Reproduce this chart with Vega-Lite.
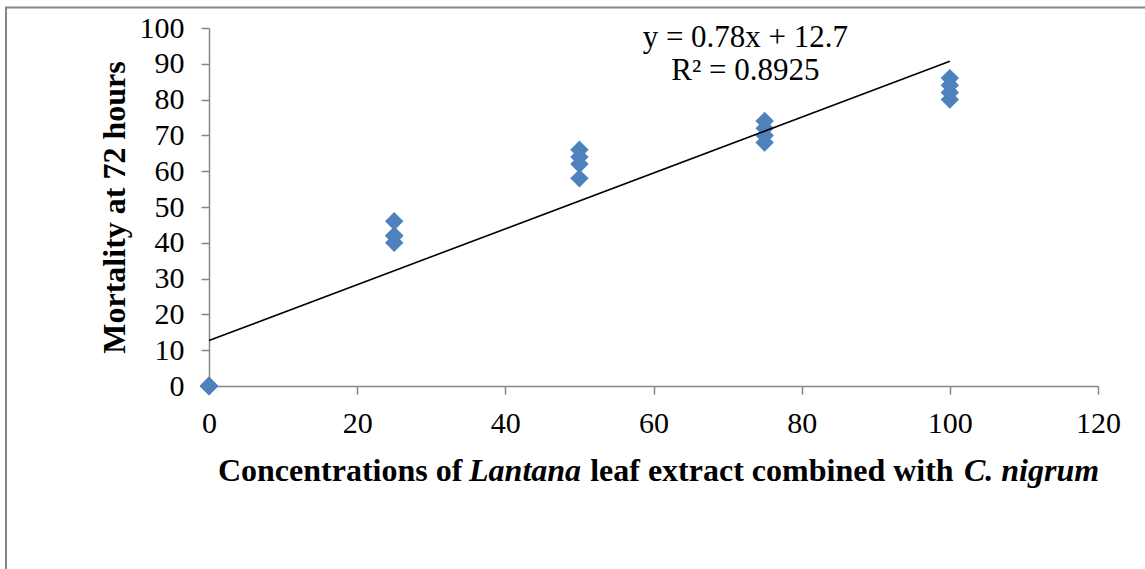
{
  "$schema": "https://vega.github.io/schema/vega-lite/v6.json",
  "width": 889,
  "height": 358,
  "autosize": "none",
  "padding": {"left": 209, "top": 28, "right": 47, "bottom": 183},
  "background": "white",
  "config": {"view": {"stroke": null}, "font": "Liberation Serif"},
  "datasets": {
    "points": [
      {"x": 0, "y": 0}, {"x": 0, "y": 0}, {"x": 0, "y": 0}, {"x": 0, "y": 0},
      {"x": 25, "y": 40}, {"x": 25, "y": 42}, {"x": 25, "y": 42}, {"x": 25, "y": 46},
      {"x": 50, "y": 58}, {"x": 50, "y": 62}, {"x": 50, "y": 64}, {"x": 50, "y": 66},
      {"x": 75, "y": 68}, {"x": 75, "y": 70}, {"x": 75, "y": 72}, {"x": 75, "y": 74},
      {"x": 100, "y": 80}, {"x": 100, "y": 82}, {"x": 100, "y": 84}, {"x": 100, "y": 86}
    ],
    "trend": [{"x": 0, "y": 12.7, "x2": 100, "y2": 90.7}],
    "eq": [
      {"x": 72.4, "y": 97.3, "label": "y = 0.78x + 12.7"},
      {"x": 72.4, "y": 88.0, "label": "R² = 0.8925"}
    ],
    "titleNormal": [
      {"x": 1.21, "y": -26.6, "label": "Concentrations of"},
      {"x": 51.45, "y": -26.6, "label": "leaf extract combined with"}
    ],
    "titleItalic": [
      {"x": 35.1, "y": -26.6, "label": "Lantana"},
      {"x": 101.9, "y": -26.6, "label": "C. nigrum"}
    ],
    "frame": [{"x": -27.4, "x2": 170, "y": 105.7, "y2": -120}]
  },
  "encoding": {
    "x": {
      "field": "x", "type": "quantitative",
      "scale": {"domain": [0, 120], "nice": false},
      "axis": {
        "values": [0, 20, 40, 60, 80, 100, 120],
        "title": null,
        "grid": false,
        "labelFont": "Liberation Serif",
        "labelFontSize": 30,
        "labelColor": "black",
        "labelPadding": 14,
        "labelOverlap": false,
        "tickSize": 8,
        "tickColor": "#868686",
        "domainColor": "#868686",
        "domainWidth": 1.5,
        "tickWidth": 1.5,
        "labelFlush": false
      }
    },
    "y": {
      "field": "y", "type": "quantitative",
      "scale": {"domain": [0, 100], "nice": false},
      "axis": {
        "values": [0, 10, 20, 30, 40, 50, 60, 70, 80, 90, 100],
        "title": "Mortality at 72 hours",
        "titleFont": "Liberation Serif",
        "titleFontSize": 32,
        "titleFontWeight": "bold",
        "titleColor": "black",
        "titlePadding": 8,
        "grid": false,
        "labelFont": "Liberation Serif",
        "labelFontSize": 30,
        "labelColor": "black",
        "labelPadding": 17,
        "labelOverlap": false,
        "tickSize": 8,
        "tickColor": "#868686",
        "domainColor": "#868686",
        "domainWidth": 1.5,
        "tickWidth": 1.5,
        "labelFlush": false
      }
    }
  },
  "layer": [
    {
      "data": {"name": "frame"},
      "mark": {"type": "rect", "fill": null, "stroke": "#868686", "strokeWidth": 2, "clip": false},
      "encoding": {"x2": {"field": "x2"}, "y2": {"field": "y2"}}
    },
    {
      "data": {"name": "points"},
      "mark": {"type": "point", "shape": "diamond", "filled": true, "color": "#4F81BD", "size": 340, "opacity": 1}
    },
    {
      "data": {"name": "trend"},
      "mark": {"type": "rule", "color": "black", "strokeWidth": 1.6},
      "encoding": {"x2": {"field": "x2"}, "y2": {"field": "y2"}}
    },
    {
      "data": {"name": "eq"},
      "mark": {"type": "text", "font": "Liberation Serif", "fontSize": 31, "color": "black", "align": "center", "baseline": "middle"},
      "encoding": {"text": {"field": "label"}}
    },
    {
      "data": {"name": "titleNormal"},
      "mark": {"type": "text", "font": "Liberation Serif", "fontSize": 32, "fontWeight": "bold", "color": "black", "align": "left", "baseline": "alphabetic", "clip": false},
      "encoding": {"text": {"field": "label"}}
    },
    {
      "data": {"name": "titleItalic"},
      "mark": {"type": "text", "font": "Liberation Serif", "fontSize": 32, "fontWeight": "bold", "fontStyle": "italic", "color": "black", "align": "left", "baseline": "alphabetic", "clip": false},
      "encoding": {"text": {"field": "label"}}
    }
  ]
}
